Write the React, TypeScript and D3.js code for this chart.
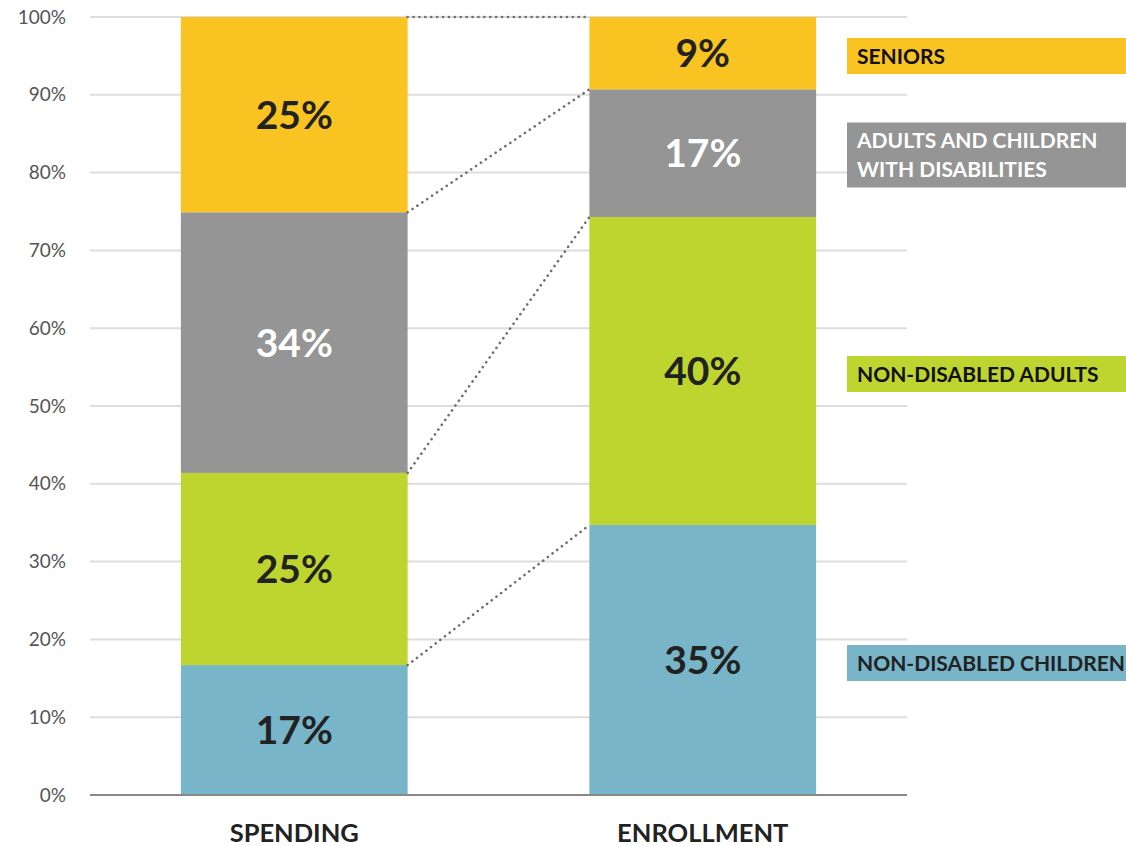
import React from "react";
import * as d3 from "d3";

const groups = ["SPENDING", "ENROLLMENT"];
const segments = ["children", "adults", "disabilities", "seniors"];
const spendingValues = [16.7, 24.7, 33.5, 25.1];
const enrollmentValues = [34.7, 39.6, 16.4, 9.3];
const spendingLabels = ["17%", "25%", "34%", "25%"];
const enrollmentLabels = ["35%", "40%", "17%", "9%"];
const legendLines = [["NON-DISABLED CHILDREN"], ["NON-DISABLED ADULTS"], ["ADULTS AND CHILDREN", "WITH DISABILITIES"], ["SENIORS"]];
const legendCenters = [663, 374, 155, 56];
const yTicks = [0, 10, 20, 30, 40, 50, 60, 70, 80, 90, 100];
const colors = ["#78B5C8", "#BED530", "#959595", "#F9C322"];
const labelColors = ["#222", "#222", "#fff", "#222"];
const legendTextColors = ["#222", "#111", "#fff", "#111"];

const W = 1126, H = 846;
const FONT = "Lato, 'Open Sans', sans-serif";

export default function App() {
  const y = d3.scaleLinear().domain([0, 100]).range([795, 17]);
  const x = d3.scaleBand().domain(groups).range([90, 907]).paddingInner(0.445).paddingOuter(0.2225);
  const bw = x.bandwidth();
  const series = [spendingValues, enrollmentValues];
  const labels = [spendingLabels, enrollmentLabels];
  const stacks = series.map((vals) => {
    let c = 0;
    return vals.map((v) => { const s = c; c += v; return [s, c]; });
  });
  const sx = (x("SPENDING") as number) + bw;
  const ex = x("ENROLLMENT") as number;

  return (
    <svg width={W} height={H} style={{ position: "absolute", left: 0, top: 0, background: "#fff" }} fontFamily={FONT}>
      {yTicks.map((t) => (
        <g key={t}>
          {t > 0 && <line x1={90} x2={907} y1={y(t)} y2={y(t)} stroke="#dddddd" strokeWidth={2} />}
          <text x={66} y={y(t)} dy="0.35em" textAnchor="end" fontSize={19} fontWeight={400} fill="#555">{t}%</text>
        </g>
      ))}
      {groups.map((g, gi) => (
        <g key={g}>
          {stacks[gi].map(([a, b], si) => (
            <g key={si}>
              <rect x={x(g)} y={y(b)} width={bw} height={y(a) - y(b)} fill={colors[si]} />
              <text x={(x(g) as number) + bw / 2} y={(y(a) + y(b)) / 2} dy="0.36em" textAnchor="middle" fontSize={39} fontWeight={700} fill={labelColors[si]}>{labels[gi][si]}</text>
            </g>
          ))}
          <text x={(x(g) as number) + bw / 2} y={842} textAnchor="middle" fontSize={25.5} fontWeight={700} fill="#222">{g}</text>
        </g>
      ))}
      {segments.map((s, si) => (
        <line key={s} x1={sx} y1={y(stacks[0][si][1])} x2={ex} y2={y(stacks[1][si][1])} stroke="#6f6f6f" strokeWidth={2.6} strokeDasharray="0.1,5.8" strokeLinecap="round" />
      ))}
      <line x1={90} x2={907} y1={y(0)} y2={y(0)} stroke="#888" strokeWidth={2} />
      {legendLines.map((lines, si) => {
        const h = lines.length === 1 ? 36 : 65;
        const top = legendCenters[si] - h / 2;
        return (
          <g key={si}>
            <rect x={847} y={top} width={W - 847} height={h} fill={colors[si]} />
            {lines.map((ln, li) => (
              <text key={li} x={857} y={top + h / 2 + (li - (lines.length - 1) / 2) * 29} dy="0.36em" fontSize={21} fontWeight={700} fill={legendTextColors[si]}>{ln}</text>
            ))}
          </g>
        );
      })}
    </svg>
  );
}
